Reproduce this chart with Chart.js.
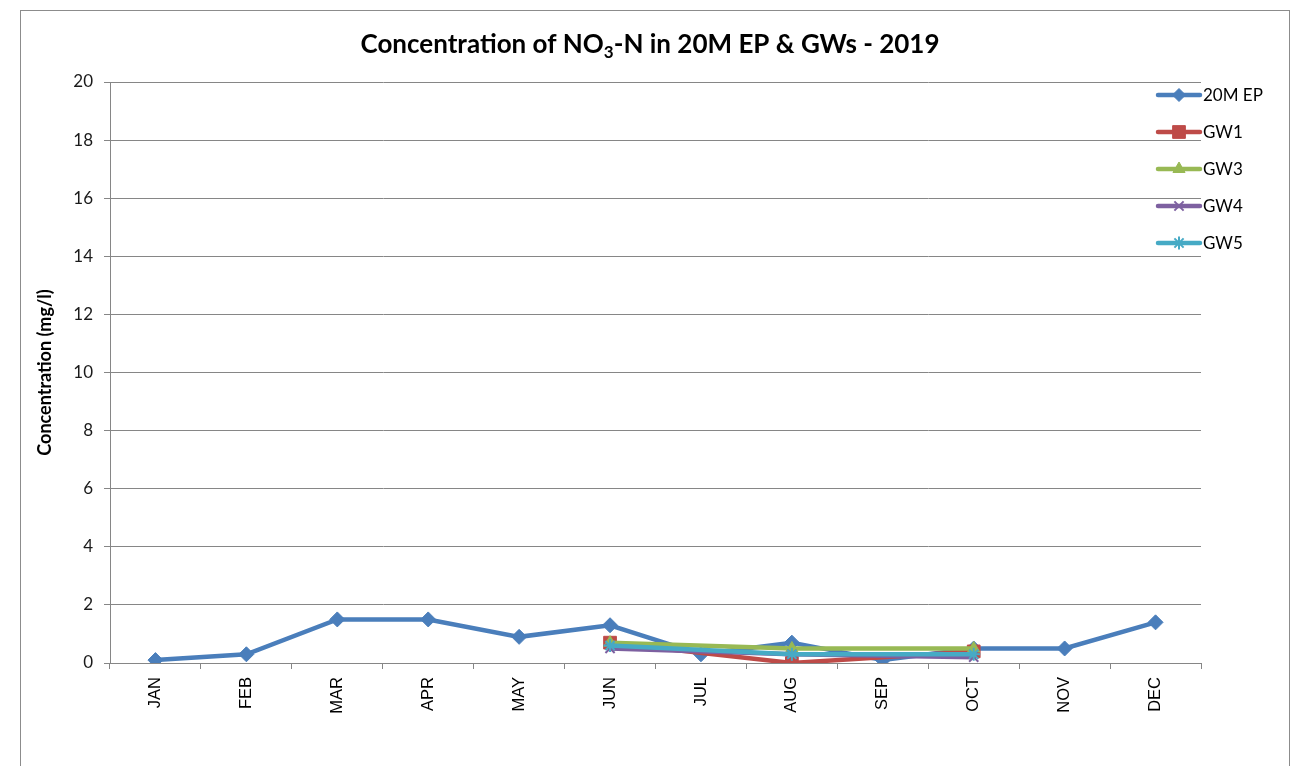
<!DOCTYPE html>
<html>
<head>
<meta charset="utf-8">
<script src="https://cdn.jsdelivr.net/npm/chart.js@4.4.1/dist/chart.umd.min.js"></script>
<style>
  html, body { margin: 0; padding: 0; background: #fff; }
  #wrap { width: 1300px; height: 766px; }
</style>
</head>
<body>
<div id="wrap"><canvas id="c" width="1300" height="766"></canvas></div>
<script>
// Monthly NO3-N concentrations (mg/l), 2019
const months = ['JAN','FEB','MAR','APR','MAY','JUN','JUL','AUG','SEP','OCT','NOV','DEC'];
const ep20m = [0.1, 0.3, 1.5, 1.5, 0.9, 1.3, 0.3, 0.7, 0.1, 0.5, 0.5, 1.4];
const gw1 = [null, null, null, null, null, 0.7, null, 0.0, null, 0.4, null, null];
const gw3 = [null, null, null, null, null, 0.7, null, 0.5, null, 0.5, null, null];
const gw4 = [null, null, null, null, null, 0.5, null, 0.3, null, 0.2, null, null];
const gw5 = [null, null, null, null, null, 0.6, null, 0.3, null, 0.3, null, null];
const yTicks = [0, 2, 4, 6, 8, 10, 12, 14, 16, 18, 20];

const FONT = 'Lato, "Liberation Sans", sans-serif';
const AXIS_FONT = '"Liberation Sans", Arial, sans-serif';

function series(label, data, color, style, radius, legendRadius, order) {
  return {
    label, data, order, legendRadius,
    borderColor: color, backgroundColor: color,
    borderWidth: 4.5,
    pointStyle: style, pointRadius: radius, pointHoverRadius: radius,
    pointBorderColor: color, pointBackgroundColor: color,
    pointBorderWidth: (style === 'crossRot' || style === 'star') ? 2 : 1,
    spanGaps: true, tension: 0
  };
}

const datasets = [
  series('20M EP', ep20m, '#4A7EBB', 'rectRot', 7.5, 6.5, 4),
  series('GW1', gw1, '#BE4B48', 'rect', 9, 9, 3),
  series('GW3', gw3, '#98B954', 'triangle', 7, 7, 2),
  series('GW4', gw4, '#7D60A0', 'crossRot', 6.5, 6.5, 1),
  series('GW5', gw5, '#46AAC5', 'star', 6.5, 6.5, 0)
];

// Frame, title with subscript, and side legend (line with centred marker)
const decorPlugin = {
  id: 'decor',
  beforeDraw(chart) {
    const ctx = chart.ctx;
    ctx.save();
    ctx.fillStyle = '#fff';
    ctx.fillRect(0, 0, chart.width, chart.height);
    ctx.strokeStyle = '#8c8c8c';
    ctx.lineWidth = 1;
    ctx.strokeRect(20.5, 10.5, 1269, 800);

    // title: "Concentration of NO3-N in 20M EP & GWs - 2019" with subscript 3
    const parts = [
      { t: 'Concentration of NO', f: 'bold 26px ' + FONT, dy: 0 },
      { t: '3', f: 'bold 17px ' + FONT, dy: 5 },
      { t: '-N in 20M EP & GWs - 2019', f: 'bold 26px ' + FONT, dy: 0 }
    ];
    let total = 0;
    parts.forEach(p => { ctx.font = p.f; p.w = ctx.measureText(p.t).width; total += p.w; });
    let x = 650 - total / 2;
    const base = 53;
    ctx.fillStyle = '#000';
    ctx.textBaseline = 'alphabetic';
    ctx.textAlign = 'left';
    parts.forEach(p => { ctx.font = p.f; ctx.fillText(p.t, x, base + p.dy); x += p.w; });
    ctx.restore();
  },
  afterDraw(chart) {
    const ctx = chart.ctx;
    ctx.save();
    const x0 = 1158, x1 = 1200, yStart = 95, step = 37;
    chart.data.datasets.forEach((ds, i) => {
      const y = yStart + i * step;
      ctx.strokeStyle = ds.borderColor;
      ctx.lineWidth = 4.5;
      ctx.lineCap = 'round';
      ctx.beginPath();
      ctx.moveTo(x0, y);
      ctx.lineTo(x1, y);
      ctx.stroke();
      ctx.fillStyle = ds.pointBackgroundColor;
      ctx.strokeStyle = ds.pointBorderColor;
      ctx.lineWidth = ds.pointBorderWidth;
      ctx.lineCap = 'butt';
      Chart.helpers.drawPoint(ctx, {
        pointStyle: ds.pointStyle,
        radius: ds.legendRadius,
        borderWidth: ds.pointBorderWidth,
        rotation: 0
      }, (x0 + x1) / 2, y);
      ctx.fillStyle = '#000';
      ctx.font = '17px ' + FONT;
      ctx.textAlign = 'left';
      ctx.textBaseline = 'middle';
      ctx.fillText(ds.label, x1 + 3, y + 1);
    });
    ctx.restore();
  }
};

new Chart(document.getElementById('c'), {
  type: 'line',
  data: { labels: months, datasets },
  plugins: [decorPlugin],
  options: {
    responsive: false,
    animation: false,
    layout: { padding: { left: 34, right: 99, top: 82, bottom: 0 } },
    plugins: {
      legend: { display: false },
      tooltip: { enabled: false },
      title: { display: false }
    },
    scales: {
      x: {
        offset: true,
        grid: { offset: true, drawOnChartArea: false, drawTicks: true, tickLength: 6, color: '#868686' },
        border: { color: '#868686', width: 1 },
        ticks: {
          color: '#000', minRotation: 90, maxRotation: 90, padding: 8,
          font: { family: AXIS_FONT, size: 16.5 }
        },
        afterFit(scale) { scale.height = 103; }
      },
      y: {
        min: 0, max: 20,
        afterBuildTicks(scale) { scale.ticks = yTicks.map(v => ({ value: v })); },
        grid: { color: '#868686', tickLength: 6, lineWidth: 1 },
        border: { color: '#868686', width: 1 },
        ticks: { color: '#1a1a1a', padding: 11, font: { family: FONT, size: 17 } },
        title: {
          display: true, text: 'Concentration (mg/l)', color: '#000',
          font: { family: FONT, size: 18, weight: 'bold' },
          padding: { top: 0, bottom: 0 }
        },
        afterFit(scale) { scale.width = 76; }
      }
    }
  }
});
</script>
</body>
</html>
